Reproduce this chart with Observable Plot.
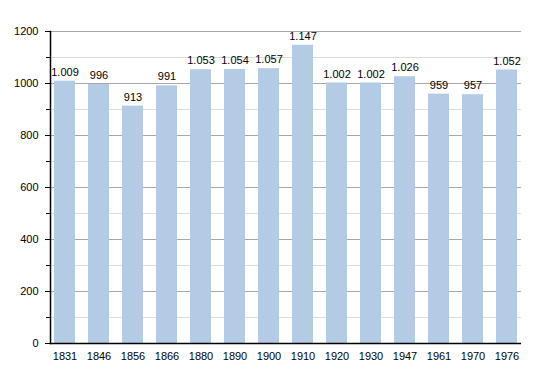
<!DOCTYPE html>
<html><head><meta charset="utf-8">
<script src="https://cdn.jsdelivr.net/npm/d3@7"></script>
<script src="https://cdn.jsdelivr.net/npm/@observablehq/plot@0.6"></script>
<style>body{margin:0;background:#fff}svg{display:block}</style>
</head><body><div id="chart"></div>
<script>
const years = ["1831","1846","1856","1866","1880","1890","1900","1910","1920","1930","1947","1961","1970","1976"];
const population = [1009,996,913,991,1053,1054,1057,1147,1002,1002,1026,959,957,1052];
const majorTicks = [0,200,400,600,800,1000,1200];
const minorTicks = [100,300,500,700,900,1100];
const data = years.map((y,i)=>({year:y, pop:population[i]}));
const fmt = v => d3.format(",")(v).replace(/,/g,".");
const chart = Plot.plot({
  width:550, height:373,
  marginLeft:50, marginRight:29, marginTop:31, marginBottom:30,
  style:{fontFamily:"Liberation Sans, Arial, sans-serif", fontSize:"11px", color:"#000", background:"#fff"},
  x:{domain:years, paddingInner:0.39, paddingOuter:0, label:null, axis:null},
  y:{domain:[0,1200], label:null, axis:null},
  marks:[
    Plot.ruleY(minorTicks,{stroke:"#dcdcdc", strokeWidth:1}),
    Plot.ruleY(majorTicks,{stroke:"#a8a8a8", strokeWidth:1}),
    Plot.barY(data,{x:"year", y:"pop", fill:"#b3cbe5"}),
    Plot.text(data,{x:"year", y:"pop", text:d=>fmt(d.pop), dy:-9, fontSize:11, fill:"#000"}),
    Plot.axisY(majorTicks,{tickSize:5, tickPadding:7, fontSize:11, label:null, stroke:"#000", tickFormat:d3.format("d")}),
    Plot.axisY(minorTicks,{tickSize:4, text:null, label:null, stroke:"#000"}),
    Plot.axisX({tickSize:0, tickPadding:9, fontSize:11, label:null}),
    Plot.frame({anchor:"left", stroke:"#000", strokeWidth:1.5}),
    Plot.ruleY([0],{stroke:"#000", strokeWidth:1.5})
  ]
});
document.getElementById("chart").append(chart);
</script></body></html>
